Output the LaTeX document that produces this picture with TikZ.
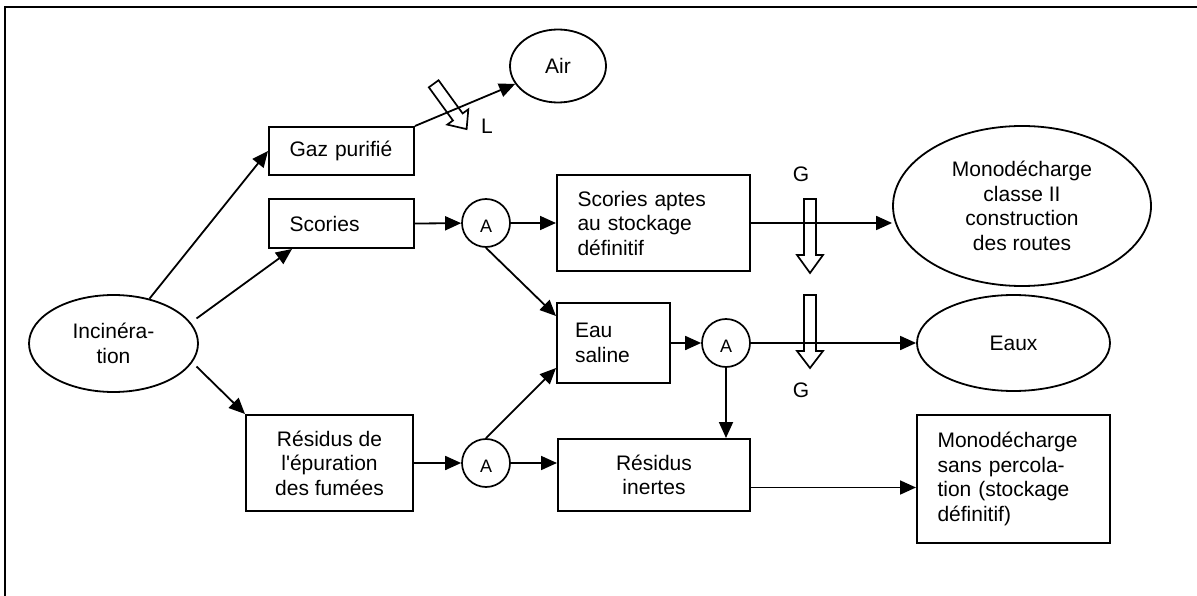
\documentclass[tikz,border=0pt]{standalone}
\usepackage{fontspec}
\newfontfamily\lsans{Liberation Sans}
\usetikzlibrary{arrows.meta,shapes.geometric,calc}
\begin{document}
\begin{tikzpicture}[x=1pt,y=-1pt,
  every node/.style={font=\lsans\fontsize{21}{24.5}\selectfont, inner sep=0pt},
  box/.style={draw, rectangle, line width=2pt},
  oval/.style={draw, ellipse, line width=1.8pt, align=center},
  junction/.style={draw, circle, line width=1.7pt, minimum size=48pt,
    font=\lsans\fontsize{18}{20}\selectfont},
  flow/.style={line width=1.8pt, -{Triangle[length=16pt,width=14pt]}},
  pics/fatarrow/.style n args={2}{code={
    \draw[line width=1.7pt, line join=miter]
      (0,-6) -- ({#1-#2},-6) -- ({#1-#2},-13) -- (#1,0)
      -- ({#1-#2},13) -- ({#1-#2},6) -- (0,6) -- cycle;}},
]
\useasboundingbox (0,0) rectangle (1197,596);
% page frame
\draw[line width=2.2pt] (5,610) -- (5,7) -- (1210,7);

% sources and destinations
\node[oval, minimum width=169pt, minimum height=97pt] (inc) at (113.5,343.5) {Incinéra-\\tion};
\node[oval, minimum width=96pt, minimum height=73pt] (air) at (558,66) {Air};
\node[oval, minimum width=258pt, minimum height=160pt] (mono1) at (1022,206)
  {Monodécharge\\classe II\\construction\\des routes};
\node[oval, minimum width=193pt, minimum height=96pt] (eaux) at (1013.5,343) {Eaux};

% intermediate products
\node[box, minimum width=145pt, minimum height=48pt, text width=104pt, align=left]
  (gaz) at (341.5,151) {Gaz purifié};
\node[box, minimum width=145pt, minimum height=49pt, text width=104pt, align=left]
  (scories) at (341.5,223.5) {Scories};
\node[box, minimum width=193pt, minimum height=96pt, text width=152pt, align=left]
  (aptes) at (653.5,223) {Scories aptes\\au stockage\\définitif};
\node[box, minimum width=113pt, minimum height=80pt, text width=77pt, align=left]
  (eau) at (613.5,343) {Eau\\saline};
\node[box, minimum width=167pt, minimum height=96pt, align=center]
  (resfum) at (329.5,463) {Résidus de\\l'épuration\\des fumées};
\node[box, minimum width=192pt, minimum height=72pt, align=center]
  (inertes) at (654,475) {Résidus\\inertes};
\node[box, minimum width=193pt, minimum height=128pt, text width=152pt, align=left]
  (mono2) at (1013.5,479) {Monodécharge\\sans percola-\\tion (stockage\\définitif)};

% treatment steps (letter set slightly low in the circle)
\node[junction] (a1) at (486,223) {A\rule{0pt}{19pt}};
\node[junction] (a2) at (726,343) {A\rule{0pt}{19pt}};
\node[junction] (a3) at (486,463) {A\rule{0pt}{19pt}};

% flows
\draw[flow] (inc) -- (gaz.west);
\draw[flow] ($(inc.center)+(83,-25)$) -- ($(scories.south west)+(24,0)$);
\draw[flow] ($(inc.center)+(83,23)$) -- (resfum.north west);
\draw[flow] (gaz.north east) -- (air);
\draw[flow] (scories.east) -- (a1);
\draw[flow] (a1) -- (aptes);
\draw[flow] (a1.south) -- ($(eau.north west)+(0,14)$);
\draw[flow] (resfum) -- (a3);
\draw[flow] (a3) -- (a3 -| inertes.west);
\draw[flow] (a3.north) -- ($(eau.west)+(0,25)$);
\draw[flow] (eau) -- (a2);
\draw[flow] (a2) -- (eaux);
\draw[flow] (a2) -- (a2 |- inertes.north);
\draw[flow] (aptes) -- (aptes -| mono1.west);
\coordinate (outI) at ($(inertes.east)+(0,12.5)$);
\draw[flow] (outI) -- (outI -| mono2.west);

% hollow indicator arrows with their labels
\pic[rotate=-54] at (433.7,83.8) {fatarrow={56}{15}};
\pic[rotate=-90] at (810,199) {fatarrow={74}{18}};
\pic[rotate=-90] at (810,295) {fatarrow={73}{17}};
\node (lblL) at (487,126) {L};
\node (lblG1) at (801,174) {G};
\node (lblG2) at (801,390) {G};
\end{tikzpicture}
\end{document}
